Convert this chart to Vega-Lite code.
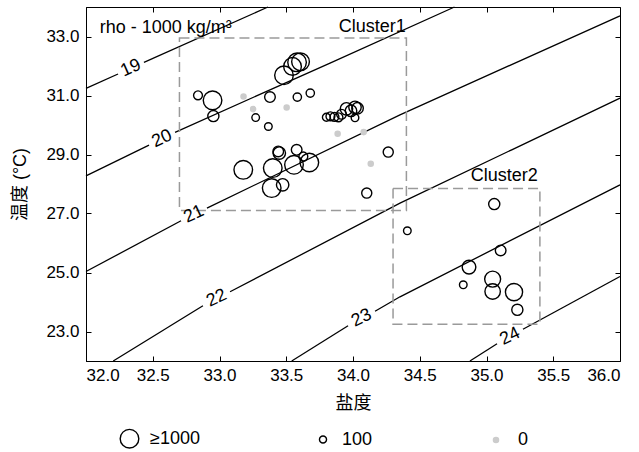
{
  "$schema": "https://vega.github.io/schema/vega-lite/v6.json",
  "width": 534,
  "height": 354,
  "autosize": {"type": "none"},
  "padding": {"left": 86, "top": 7, "right": 19, "bottom": 91},
  "config": {
    "font": "Liberation Sans, Noto Sans CJK SC",
    "view": {"stroke": "black", "strokeWidth": 1},
    "axis": {
      "grid": false,
      "domainColor": "black",
      "tickColor": "black",
      "labelColor": "black",
      "titleColor": "black",
      "labelFont": "Liberation Sans",
      "labelFontSize": 17,
      "titleFont": "Liberation Sans, Noto Sans CJK SC",
      "titleFontSize": 18,
      "titleFontWeight": "normal",
      "tickSize": -5,
      "tickWidth": 1,
      "domainWidth": 1
    }
  },
  "datasets": {
    "contours": [
      {"seg": "19a", "i": 0, "S": 32.0, "T": 31.244},
      {"seg": "19a", "i": 1, "S": 32.24, "T": 31.729},
      {"seg": "19b", "i": 0, "S": 32.434, "T": 32.122},
      {"seg": "19b", "i": 1, "S": 33.363, "T": 34.0},
      {"seg": "20a", "i": 0, "S": 32.0, "T": 28.278},
      {"seg": "20a", "i": 1, "S": 32.472, "T": 29.319},
      {"seg": "20b", "i": 0, "S": 32.667, "T": 29.753},
      {"seg": "20b", "i": 1, "S": 33.828, "T": 32.098},
      {"seg": "20b", "i": 2, "S": 34.76, "T": 34.0},
      {"seg": "21a", "i": 0, "S": 32.0, "T": 25.034},
      {"seg": "21a", "i": 1, "S": 32.712, "T": 26.753},
      {"seg": "21b", "i": 0, "S": 32.906, "T": 27.183},
      {"seg": "21b", "i": 1, "S": 34.352, "T": 30.346},
      {"seg": "21b", "i": 2, "S": 36.0, "T": 33.702},
      {"seg": "22a", "i": 0, "S": 32.204, "T": 22.0},
      {"seg": "22a", "i": 1, "S": 32.876, "T": 23.871},
      {"seg": "22b", "i": 0, "S": 33.079, "T": 24.346},
      {"seg": "22b", "i": 1, "S": 34.352, "T": 27.353},
      {"seg": "22b", "i": 2, "S": 35.189, "T": 29.159},
      {"seg": "22b", "i": 3, "S": 36.0, "T": 30.912},
      {"seg": "23a", "i": 0, "S": 33.541, "T": 22.0},
      {"seg": "23a", "i": 1, "S": 33.963, "T": 23.193},
      {"seg": "23b", "i": 0, "S": 34.165, "T": 23.685},
      {"seg": "23b", "i": 1, "S": 34.352, "T": 24.176},
      {"seg": "23b", "i": 2, "S": 36.0, "T": 27.973},
      {"seg": "24a", "i": 0, "S": 34.876, "T": 22.0},
      {"seg": "24a", "i": 1, "S": 35.079, "T": 22.583},
      {"seg": "24b", "i": 0, "S": 35.273, "T": 23.075},
      {"seg": "24b", "i": 1, "S": 36.0, "T": 24.864}
    ],
    "contourLabels": [
      {"label": "19", "S": 32.337, "T": 31.925},
      {"label": "20", "S": 32.569, "T": 29.532},
      {"label": "21", "S": 32.809, "T": 26.973},
      {"label": "22", "S": 32.979, "T": 24.125},
      {"label": "23", "S": 34.065, "T": 23.454},
      {"label": "24", "S": 35.176, "T": 22.831}
    ],
    "clusters": [
      {"name": "Cluster1", "S1": 32.7, "S2": 34.4, "T1": 27.1, "T2": 32.95},
      {"name": "Cluster2", "S1": 34.3, "S2": 35.4, "T1": 23.25, "T2": 27.85}
    ],
    "notes": [
      {"text": "rho - 1000 kg/m³", "S": 32.598, "T": 33.125},
      {"text": "Cluster1", "S": 34.145, "T": 33.169},
      {"text": "Cluster2", "S": 35.133, "T": 28.085}
    ],
    "stations": [
      {"S": 32.839, "T": 31.007, "v": 187},
      {"S": 32.948, "T": 30.837, "v": 1000},
      {"S": 32.954, "T": 30.302, "v": 327},
      {"S": 33.18, "T": 30.966, "v": 0},
      {"S": 33.252, "T": 30.539, "v": 0},
      {"S": 33.271, "T": 30.251, "v": 124},
      {"S": 33.366, "T": 29.949, "v": 124},
      {"S": 33.378, "T": 30.946, "v": 292},
      {"S": 33.503, "T": 30.593, "v": 0},
      {"S": 33.483, "T": 31.685, "v": 1000},
      {"S": 33.547, "T": 31.986, "v": 900},
      {"S": 33.581, "T": 32.125, "v": 1000},
      {"S": 33.607, "T": 32.142, "v": 900},
      {"S": 33.583, "T": 30.946, "v": 159},
      {"S": 33.68, "T": 31.081, "v": 159},
      {"S": 33.801, "T": 30.261, "v": 141},
      {"S": 33.831, "T": 30.295, "v": 187},
      {"S": 33.861, "T": 30.278, "v": 187},
      {"S": 33.891, "T": 30.261, "v": 187},
      {"S": 33.914, "T": 30.363, "v": 237},
      {"S": 33.951, "T": 30.549, "v": 416},
      {"S": 33.985, "T": 30.481, "v": 352},
      {"S": 34.015, "T": 30.6, "v": 416},
      {"S": 34.034, "T": 30.566, "v": 352},
      {"S": 34.015, "T": 30.244, "v": 124},
      {"S": 33.885, "T": 29.702, "v": 0},
      {"S": 34.08, "T": 29.759, "v": 0},
      {"S": 34.133, "T": 28.685, "v": 0},
      {"S": 34.264, "T": 29.081, "v": 258},
      {"S": 34.103, "T": 27.692, "v": 258},
      {"S": 33.178, "T": 28.481, "v": 1000},
      {"S": 33.399, "T": 28.539, "v": 1000},
      {"S": 33.448, "T": 29.047, "v": 416},
      {"S": 33.44, "T": 29.102, "v": 292},
      {"S": 33.578, "T": 29.159, "v": 292},
      {"S": 33.558, "T": 28.651, "v": 1000},
      {"S": 33.628, "T": 28.932, "v": 187},
      {"S": 33.673, "T": 28.729, "v": 1000},
      {"S": 33.391, "T": 27.861, "v": 1000},
      {"S": 33.473, "T": 27.973, "v": 416},
      {"S": 35.058, "T": 27.319, "v": 327},
      {"S": 34.407, "T": 26.414, "v": 124},
      {"S": 35.106, "T": 25.746, "v": 292},
      {"S": 34.869, "T": 25.183, "v": 515},
      {"S": 34.826, "T": 24.583, "v": 124},
      {"S": 35.046, "T": 24.776, "v": 722},
      {"S": 35.046, "T": 24.356, "v": 672},
      {"S": 35.206, "T": 24.336, "v": 847},
      {"S": 35.231, "T": 23.736, "v": 327}
    ]
  },
  "layer": [
    {
      "data": {"name": "contours"},
      "mark": {"type": "line", "color": "black", "strokeWidth": 1.3},
      "encoding": {
        "x": {"field": "S", "type": "quantitative", "scale": {"domain": [32, 36], "nice": false, "zero": false}, "axis": null},
        "y": {"field": "T", "type": "quantitative", "scale": {"domain": [22, 34], "nice": false, "zero": false}, "axis": null},
        "detail": {"field": "seg", "type": "nominal"},
        "order": {"field": "i", "type": "quantitative"}
      }
    },
    {
      "data": {"name": "clusters"},
      "mark": {"type": "rect", "fill": "transparent", "stroke": "#9a9a9a", "strokeWidth": 1.5, "strokeDash": [10, 5]},
      "encoding": {
        "x": {"field": "S1", "type": "quantitative", "axis": null},
        "x2": {"field": "S2"},
        "y": {"field": "T1", "type": "quantitative", "axis": null},
        "y2": {"field": "T2"}
      }
    },
    {
      "data": {"name": "stations"},
      "transform": [{"filter": "datum.v == 0"}],
      "mark": {"type": "circle", "size": 43, "opacity": 1},
      "encoding": {
        "x": {"field": "S", "type": "quantitative", "axis": null},
        "y": {"field": "T", "type": "quantitative", "axis": null},
        "color": {
          "datum": "0", "type": "nominal",
          "scale": {"domain": ["0"], "range": ["#cccccc"]},
          "legend": {
            "orient": "none",
            "legendX": 401,
            "legendY": 424,
            "title": null,
            "labelFont": "Liberation Sans",
            "labelFontSize": 18,
            "labelColor": "black",
            "labelOffset": 13,
            "symbolType": "circle",
            "symbolSize": 43,
            "symbolStrokeWidth": 0,
            "symbolOpacity": 1,
            "padding": 0
          }
        }
      }
    },
    {
      "data": {"name": "stations"},
      "transform": [{"filter": "datum.v > 0"}],
      "mark": {"type": "point", "shape": "circle", "filled": false, "color": "black", "strokeWidth": 1.4, "opacity": 1},
      "encoding": {
        "x": {
          "field": "S", "type": "quantitative",
          "axis": {"orient": "bottom", "values": [32, 32.5, 33, 33.5, 34, 34.5, 35, 35.5, 36], "format": ".1f", "title": "盐度", "labelPadding": 11, "titlePadding": 11}
        },
        "y": {
          "field": "T", "type": "quantitative",
          "axis": {"orient": "left", "values": [23, 25, 27, 29, 31, 33], "format": ".1f", "title": "温度 (°C)", "labelPadding": 12, "titlePadding": 16}
        },
        "size": {
          "field": "v", "type": "quantitative",
          "scale": {"domain": [0, 100, 1000], "range": [43, 50, 346], "clamp": true},
          "legend": {
            "orient": "none",
            "legendX": 33,
            "legendY": 421,
            "direction": "horizontal",
            "values": [1000, 100],
            "format": "d",
            "title": null,
            "labelExpr": "datum.value >= 1000 ? '≥1000' : datum.label",
            "labelFont": "Liberation Sans",
            "labelFontSize": 18,
            "labelColor": "black",
            "labelOffset": 10,
            "columnPadding": 114,
            "symbolType": "circle",
            "symbolStrokeWidth": 1.4,
            "symbolStrokeColor": "black",
            "symbolOpacity": 1,
            "padding": 0
          }
        }
      }
    },
    {
      "data": {"name": "contourLabels"},
      "mark": {"type": "text", "font": "Liberation Sans", "fontSize": 18, "color": "black", "align": "center", "baseline": "middle"},
      "encoding": {
        "x": {"field": "S", "type": "quantitative", "axis": null},
        "y": {"field": "T", "type": "quantitative", "axis": null},
        "text": {"field": "label"},
        "angle": {"field": "label", "type": "nominal", "scale": {"domain": ["19", "20", "21", "22", "23", "24"], "range": [336, 334, 333, 330, 328, 326]}, "legend": null}
      }
    },
    {
      "data": {"name": "notes"},
      "mark": {"type": "text", "font": "Liberation Sans", "fontSize": 18, "color": "black", "align": "center", "baseline": "alphabetic"},
      "encoding": {
        "x": {"field": "S", "type": "quantitative", "axis": {"orient": "top", "values": [32, 32.5, 33, 33.5, 34, 34.5, 35, 35.5, 36], "labels": false, "title": null, "domain": false}},
        "y": {"field": "T", "type": "quantitative", "axis": {"orient": "right", "values": [23, 25, 27, 29, 31, 33], "labels": false, "title": null, "domain": false}},
        "text": {"field": "text"}
      }
    }
  ]
}
